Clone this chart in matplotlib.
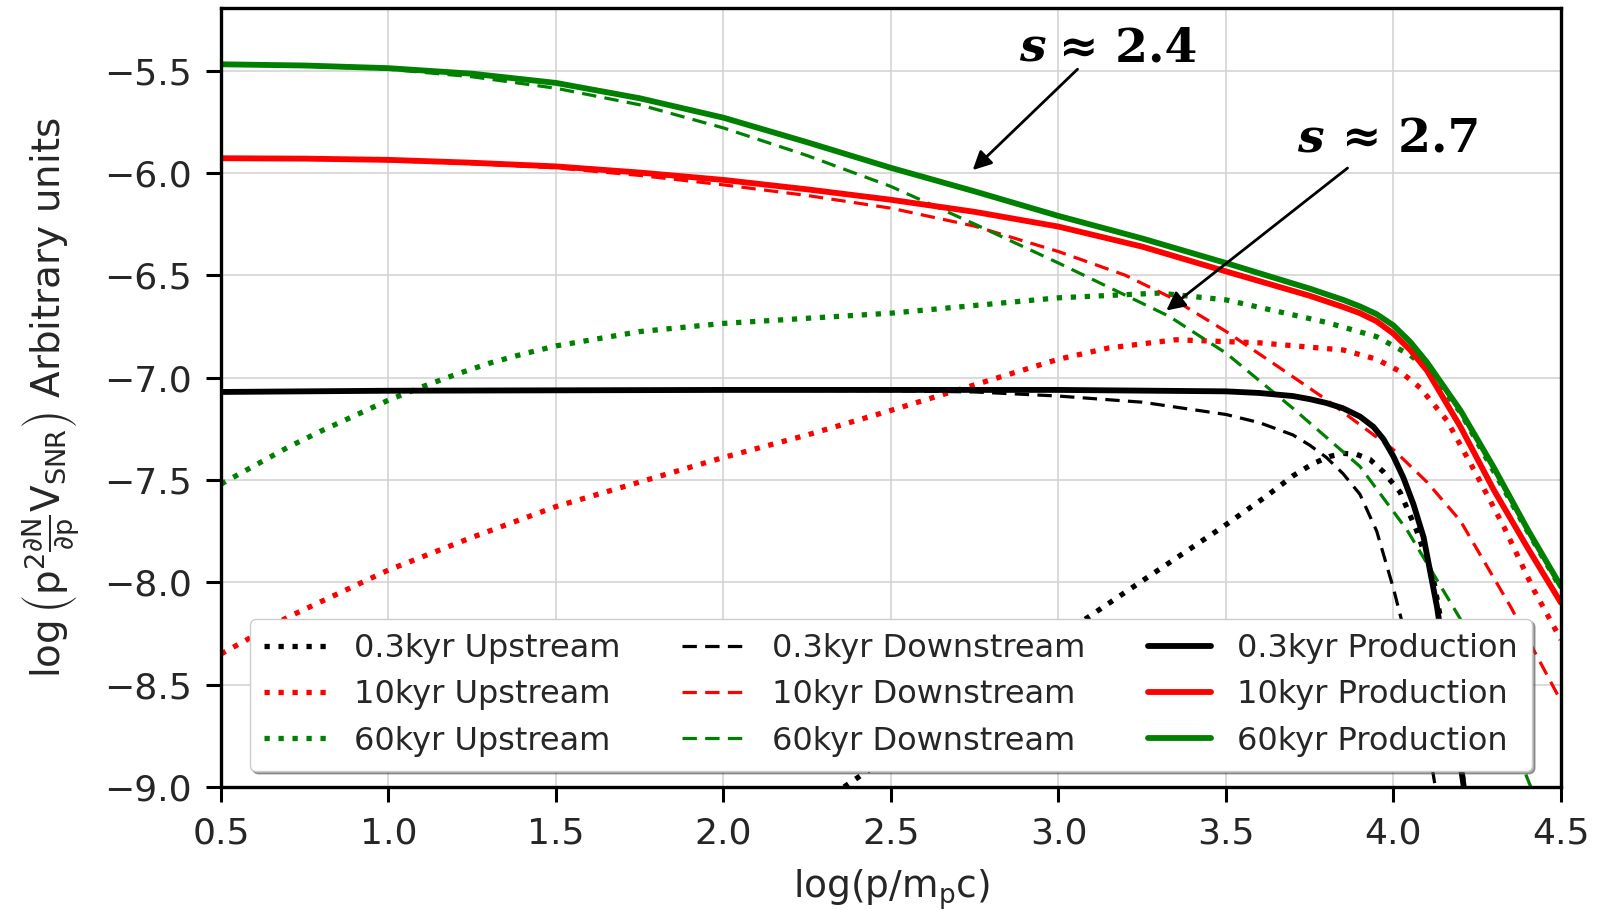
import matplotlib
matplotlib.use("Agg")
from matplotlib import pyplot as plt

# log(p/m_p c) samples and log spectra
# 0.3 kyr
x_up03 = [2.36, 2.6, 2.85, 3.08, 3.28, 3.49, 3.62, 3.70, 3.76, 3.81, 3.85, 3.89, 3.93, 3.97, 4.02, 4.07, 4.12, 4.16, 4.19, 4.21]
y_up03 = [-9.0, -8.73, -8.44, -8.18, -7.96, -7.73, -7.58, -7.48, -7.42, -7.385, -7.37, -7.375, -7.40, -7.46, -7.56, -7.75, -7.99, -8.35, -8.7, -9.0]
x_down03 = [0.5, 1.0, 1.5, 2.0, 2.5, 2.75, 3.0, 3.25, 3.5, 3.6, 3.7, 3.75, 3.8, 3.85, 3.9, 3.95, 4.0, 4.05, 4.09, 4.125]
y_down03 = [-7.07, -7.066, -7.064, -7.062, -7.064, -7.07, -7.09, -7.12, -7.18, -7.22, -7.28, -7.33, -7.39, -7.47, -7.57, -7.75, -8.03, -8.35, -8.65, -9.0]
x_prod03 = [0.5, 1.0, 1.5, 2.0, 2.5, 3.0, 3.5, 3.6, 3.7, 3.75, 3.8, 3.85, 3.9, 3.94, 3.97, 4.0, 4.03, 4.06, 4.09, 4.13, 4.17, 4.21]
y_prod03 = [-7.07, -7.064, -7.062, -7.06, -7.06, -7.06, -7.067, -7.075, -7.09, -7.105, -7.124, -7.15, -7.19, -7.24, -7.30, -7.385, -7.49, -7.62, -7.78, -8.12, -8.55, -9.0]

# 10 kyr
x_up10 = [0.5, 0.7, 1.0, 1.25, 1.5, 1.75, 2.0, 2.25, 2.5, 2.75, 3.0, 3.15, 3.35, 3.6, 3.85, 3.95, 4.02, 4.08, 4.16, 4.25, 4.33, 4.42, 4.5]
y_up10 = [-8.35, -8.17, -7.94, -7.78, -7.63, -7.51, -7.39, -7.28, -7.16, -7.035, -6.91, -6.855, -6.815, -6.83, -6.865, -6.91, -6.97, -7.05, -7.21, -7.48, -7.73, -8.04, -8.28]
x_down10 = [0.5, 0.75, 1.0, 1.25, 1.5, 1.75, 2.0, 2.25, 2.5, 2.75, 3.0, 3.2, 3.33, 3.5, 3.65, 3.8, 3.9, 4.0, 4.1, 4.2, 4.35, 4.5]
y_down10 = [-5.93, -5.932, -5.94, -5.955, -5.975, -6.012, -6.058, -6.11, -6.172, -6.26, -6.384, -6.50, -6.604, -6.774, -6.94, -7.108, -7.23, -7.352, -7.51, -7.70, -8.12, -8.58]
x_prod10 = [0.5, 0.75, 1.0, 1.25, 1.5, 1.75, 2.0, 2.25, 2.5, 2.75, 3.0, 3.25, 3.5, 3.75, 3.85, 3.9, 3.95, 4.0, 4.05, 4.1, 4.2, 4.3, 4.4, 4.5]
y_prod10 = [-5.928, -5.93, -5.936, -5.95, -5.968, -5.998, -6.034, -6.08, -6.131, -6.19, -6.262, -6.36, -6.481, -6.60, -6.655, -6.685, -6.725, -6.785, -6.865, -6.965, -7.24, -7.55, -7.83, -8.10]

# 60 kyr
x_up60 = [0.5, 0.6, 0.7, 0.8, 0.9, 1.0, 1.1, 1.2, 1.3, 1.4, 1.5, 1.75, 2.0, 2.5, 3.0, 3.3, 3.5, 3.8, 3.95, 4.05, 4.1, 4.2, 4.3, 4.4, 4.5]
y_up60 = [-7.52, -7.43, -7.34, -7.26, -7.185, -7.11, -7.045, -6.985, -6.93, -6.885, -6.845, -6.775, -6.735, -6.685, -6.61, -6.587, -6.62, -6.73, -6.80, -6.89, -6.955, -7.17, -7.46, -7.75, -8.03]
x_down60 = [0.5, 0.75, 1.0, 1.25, 1.5, 1.75, 2.0, 2.25, 2.5, 2.75, 3.0, 3.33, 3.5, 3.7, 3.9, 4.04, 4.2, 4.3, 4.41]
y_down60 = [-5.47, -5.478, -5.493, -5.53, -5.586, -5.667, -5.78, -5.915, -6.066, -6.25, -6.44, -6.70, -6.88, -7.15, -7.434, -7.743, -8.18, -8.55, -9.0]
x_prod60 = [0.5, 0.75, 1.0, 1.25, 1.5, 1.75, 2.0, 2.25, 2.5, 2.75, 3.0, 3.25, 3.5, 3.75, 3.85, 3.9, 3.95, 4.0, 4.05, 4.1, 4.2, 4.3, 4.4, 4.5]
y_prod60 = [-5.469, -5.475, -5.488, -5.515, -5.56, -5.635, -5.73, -5.85, -5.975, -6.09, -6.21, -6.32, -6.44, -6.565, -6.62, -6.652, -6.69, -6.745, -6.825, -6.925, -7.16, -7.44, -7.74, -8.02]

ages = ['0.3kyr', '10kyr', '60kyr']
colors = ['k', 'r', 'g']
upstream = [(x_up03, y_up03), (x_up10, y_up10), (x_up60, y_up60)]
downstream = [(x_down03, y_down03), (x_down10, y_down10), (x_down60, y_down60)]
production = [(x_prod03, y_prod03), (x_prod10, y_prod10), (x_prod60, y_prod60)]

plt.style.use('seaborn-v0_8-whitegrid')
plt.rcParams['font.family'] = ['DejaVu Sans']
plt.rcParams['mathtext.fontset'] = 'dejavusans'
plt.rcParams['mathtext.default'] = 'regular'
plt.rcParams['text.color'] = '.15'
plt.rcParams['axes.labelcolor'] = '.15'
plt.rcParams['xtick.color'] = '.15'
plt.rcParams['ytick.color'] = '.15'

fig = plt.figure(figsize=(15.98, 9.10), dpi=100)
ax = fig.add_axes([0.1383, 0.1352, 0.8385, 0.856])

for (x, y), c, a in zip(upstream, colors, ages):
    ax.plot(x, y, ':', color=c, lw=3.8, label=a + ' Upstream')
for (x, y), c, a in zip(downstream, colors, ages):
    ax.plot(x, y, '--', color=c, lw=2.3, dashes=(4.5, 2.6), label=a + ' Downstream')
for (x, y), c, a in zip(production, colors, ages):
    ax.plot(x, y, '-', color=c, lw=4.2, label=a + ' Production')

ax.set_xlim(0.5, 4.5)
ax.set_ylim(-9.0, -5.194)
ax.set_xticks([0.5, 1.0, 1.5, 2.0, 2.5, 3.0, 3.5, 4.0, 4.5])
ax.set_yticks([-9.0, -8.5, -8.0, -7.5, -7.0, -6.5, -6.0, -5.5])
ax.grid(True, color='.82', lw=1.1)
for s in ax.spines.values():
    s.set_color('k')
    s.set_linewidth(2.4)
ax.tick_params(axis='both', which='major', direction='out', length=11, width=2.2,
               color='k', labelsize=26, pad=10, bottom=True, left=True)

ax.set_xlabel('log(p/m$_{p}$c)', fontsize=27, labelpad=12)
ax.set_ylabel(r'$\log\left(p^{2}\frac{\partial N}{\partial p}V_{SNR}\right)$ Arbitrary units',
              fontsize=28, labelpad=16)

leg = ax.legend(ncol=3, loc='lower center', bbox_to_anchor=(0.5, 0.0), fontsize=23,
                frameon=True, fancybox=True, shadow=True, framealpha=1,
                handlelength=2.0, handletextpad=0.8, columnspacing=1.95,
                labelspacing=0.48, borderpad=0.45)
leg.get_frame().set_edgecolor('.8')

# slope annotations
arrow = dict(arrowstyle='-|>', lw=2.0, color='k', mutation_scale=28, shrinkA=0, shrinkB=0)
ax.annotate('', xy=(2.744, -5.986), xytext=(3.057, -5.493), arrowprops=arrow)
ax.annotate('', xy=(3.322, -6.672), xytext=(3.863, -5.976), arrowprops=arrow)
for xs, xv, yt, val in [(2.963, 3.002, -5.453, '2.4'), (3.793, 3.847, -5.902, '2.7')]:
    ax.text(xs, yt, 's', fontsize=34, family='DejaVu Serif', weight='bold',
            style='italic', ha='right', va='baseline', color='k')
    ax.text(xv, yt, '\u2248 ' + val, fontsize=34, family='DejaVu Serif',
            weight='bold', ha='left', va='baseline', color='k')

fig.savefig('out.png', dpi=100)
